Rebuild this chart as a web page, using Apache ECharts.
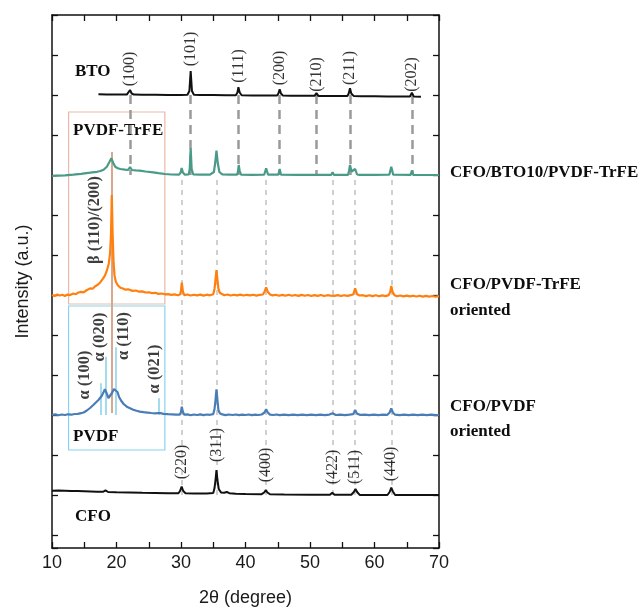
<!DOCTYPE html>
<html><head><meta charset="utf-8">
<script src="https://cdn.jsdelivr.net/npm/echarts@6/dist/echarts.min.js"></script>
<style>html,body{margin:0;padding:0;background:#fff}#c{width:640px;height:610px}</style>
</head><body><div id="c"></div>
<script>
// ---- data ----
const xTickLabels = [10, 20, 30, 40, 50, 60, 70];
const btoPeaks = [22.1, 31.5, 38.9, 45.3, 51.0, 56.2, 65.8];
const btoLabels = ['(100)', '(101)', '(111)', '(200)', '(210)', '(211)', '(202)'];
const cfoPeaks = [30.1, 35.5, 43.2, 53.5, 57.0, 62.6];
const cfoLabels = ['(220)', '(311)', '(400)', '(422)', '(511)', '(440)'];
const alphaPeaks = [17.62, 18.34, 19.93, 26.58];
const alphaLabels = ['α (100)', 'α (020)', 'α (110)', 'α (021)'];
const alphaHeights = [31.7, 58.3, 67.7, 16.7];
const betaPeak = 19.27;
const betaLabel = 'β (110)/(200)';

// vertical offsets of each pattern (a.u.)
const btoOffset = 453, tealOffset = 373, orangeOffset = 252.3, blueOffset = 133, cfoOffset = 56;

// [2θ, intensity above own baseline]
const btoProfile = [[17.2,0.7],[18.5,0.6],[20,0.5],[21.6,0.4],[21.9,1.5],[22.1,5],[22.35,1.5],[22.7,0.4],[24,0.3],[26,0.2],[28,0.1],[30,0],[31.0,0.3],[31.3,4],[31.5,24],[31.7,4],[32.0,0.3],[33,0],[35,-0.1],[37,-0.2],[38.5,-0.2],[38.75,2.5],[38.9,7.7],[39.1,2.5],[39.4,-0.3],[41,-0.4],[43,-0.5],[44.9,-0.6],[45.1,1.5],[45.3,5.7],[45.5,1.5],[45.8,-0.6],[47,-0.7],[49,-0.8],[50.7,-0.8],[51.0,1.8],[51.3,-0.9],[53,-1.0],[55.8,-1.0],[56.0,1.5],[56.2,6.8],[56.4,1.5],[56.8,-1.1],[58,-1.2],[60,-1.3],[62,-1.4],[64,-1.5],[65.5,-1.5],[65.8,2.4],[66.1,-1.6],[67.2,-1.7]];

const tealProfile = [[10,-1.0],[11,-0.6],[12,-0.3],[13.3,0.3],[14.5,1.2],[15.9,2.3],[17,3.2],[17.5,4],[18,5.3],[18.5,8.3],[18.9,13],[19.2,16.7],[19.5,12],[19.8,8.3],[20.2,6.8],[20.6,6],[21.3,5.3],[21.8,5],[22.1,8],[22.4,5],[23,4.6],[23.6,4.3],[24.5,3.5],[25.7,2.7],[26.5,1.8],[27.5,1],[28.5,0.5],[29.7,0.3],[29.95,2.5],[30.1,7],[30.3,2.5],[30.6,0.3],[31.2,0.5],[31.35,6],[31.5,26.7],[31.65,6],[31.9,0.5],[33,0.3],[34.5,0.3],[35.1,3],[35.3,12],[35.5,24.3],[35.7,12],[35.95,3],[36.4,0.6],[37.5,0.3],[38.7,0.3],[38.85,4],[38.95,10],[39.1,4],[39.3,0.3],[41,0.2],[42.9,0.3],[43.2,6.7],[43.5,0.3],[45.1,0.3],[45.3,6],[45.5,0.3],[48,0.2],[51,0.2],[53.3,0.2],[53.5,2.7],[53.7,0.2],[55.9,0.2],[56.05,4],[56.2,10],[56.45,3.5],[56.7,4],[57.0,6],[57.3,0.5],[57.7,0.2],[60,0.2],[62.3,0.3],[62.6,8.3],[62.9,0.3],[65.6,0.2],[65.8,4.3],[66,0.2],[70,0]];

const orangeProfile = [[10,0.8],[10.4,-0.3],[10.8,1.2],[11.2,0.2],[11.6,0.9],[12,-0.2],[12.4,1.1],[12.8,0.6],[13.3,2.2],[13.7,1.5],[14.1,3.2],[14.5,3.8],[14.9,3.3],[15.3,5.2],[15.9,7.3],[16.3,7.0],[16.7,9.5],[17.1,11],[17.5,13.5],[17.9,17],[18.2,20],[18.5,25],[18.8,32],[19.0,42],[19.15,62],[19.27,100.7],[19.4,62],[19.55,32],[19.7,20],[19.9,14],[20.2,10.5],[20.6,8],[21,7.2],[21.4,6],[21.8,6.4],[22.1,5.2],[22.5,4.8],[23,5.2],[23.5,4],[24,4.3],[24.5,3.2],[25,3.4],[25.5,2.6],[26,2.9],[26.5,1.8],[27,2.2],[27.5,1.4],[28,1.6],[28.5,0.8],[29,1.3],[29.5,0.5],[29.85,1.2],[30.0,5],[30.12,13],[30.3,4],[30.5,0.6],[31,1.2],[31.5,0.2],[32,1.0],[32.5,0.3],[33,1.1],[33.5,0.1],[34,1.0],[34.5,0.4],[35.0,1.5],[35.2,7],[35.35,16],[35.5,25.7],[35.65,16],[35.8,7],[36.0,3],[36.3,1.4],[36.7,0.5],[37.2,1.2],[37.7,0.2],[38.2,1.0],[38.7,0.3],[39.2,1.1],[39.7,0.2],[40.2,0.9],[40.7,0.3],[41.2,1.0],[41.7,0.1],[42.2,0.9],[42.7,1.2],[42.95,4],[43.2,8.4],[43.45,4],[43.8,1.2],[44.2,0.3],[44.7,1.0],[45.2,0],[45.7,0.8],[46.2,-0.1],[46.7,0.9],[47.2,0],[47.7,0.7],[48.2,-0.2],[48.7,0.8],[49.2,0],[49.7,0.7],[50.2,-0.3],[50.7,0.6],[51.2,-0.2],[51.7,0.7],[52.2,-0.3],[52.7,0.5],[53.2,0],[53.5,1.6],[53.8,-0.2],[54.3,0.6],[54.8,-0.3],[55.3,0.5],[55.8,-0.2],[56.3,0.6],[56.7,1.2],[57.0,7.4],[57.3,1.5],[57.7,0.2],[58.2,0.5],[58.7,-0.4],[59.2,0.4],[59.7,-0.4],[60.2,0.4],[60.7,-0.5],[61.2,0.3],[61.7,-0.4],[62.2,0.6],[62.45,4],[62.6,9.7],[62.8,4],[63.1,0.5],[63.5,-0.5],[64,0.2],[64.5,-0.7],[65,0.1],[65.5,-0.7],[66,0.0],[66.5,-0.8],[67,-0.1],[67.5,-0.9],[68,-0.2],[68.5,-0.9],[69,-0.3],[69.5,-1.0],[70,-0.5]];

const blueProfile = [[10,0],[10.5,0.6],[11,-0.2],[11.5,0.5],[12,0],[12.5,0.7],[13,0.3],[13.5,1.0],[14,1.2],[14.5,1.8],[14.9,2.5],[15.4,4.5],[15.9,7],[16.4,10],[16.8,12.5],[17.2,15],[17.7,19],[18.0,23],[18.2,25.7],[18.45,22],[18.75,17],[19.0,19],[19.3,22],[19.6,26],[19.9,27.7],[20.15,23],[20.4,18],[20.7,14.5],[21.1,11],[21.6,8.3],[22.1,6.8],[22.6,5.3],[23.1,4.2],[23.6,3.4],[24.2,2.8],[24.8,2.4],[25.4,2.0],[26.0,1.7],[26.4,1.9],[26.6,3],[26.8,1.8],[27.3,1.2],[28,0.8],[28.6,0.6],[29.2,0.3],[29.8,0.3],[30.0,3],[30.12,8.3],[30.3,3],[30.5,0.3],[31,0.6],[31.5,-0.2],[32,0.5],[32.5,0],[33,0.6],[33.5,-0.1],[34,0.5],[34.5,0.2],[35.0,0.9],[35.2,6],[35.35,15],[35.5,25.7],[35.65,15],[35.8,5],[36.0,1.8],[36.4,0.6],[36.9,-0.1],[37.4,0.5],[38,0],[38.5,0.5],[39,-0.1],[39.5,0.4],[40,0],[40.5,0.5],[41,-0.1],[41.5,0.4],[42,0],[42.5,0.5],[42.95,2.5],[43.2,5.7],[43.45,2.5],[43.8,0.4],[44.3,0],[44.8,0.5],[45.3,-0.1],[46,0.4],[46.7,-0.1],[47.4,0.4],[48.1,-0.1],[48.8,0.4],[49.5,-0.1],[50.2,0.4],[50.9,-0.1],[51.6,0.4],[52.3,-0.1],[53.0,0.4],[53.5,1.7],[54,0],[54.7,0.4],[55.4,-0.1],[56.1,0.4],[56.7,0.9],[57.0,5],[57.3,1.2],[57.8,0.1],[58.5,0.4],[59.2,-0.1],[59.9,0.4],[60.6,-0.1],[61.3,0.4],[62.0,0.2],[62.35,2.5],[62.6,6.7],[62.85,2.5],[63.2,0.3],[63.9,-0.1],[64.6,0.3],[65.3,-0.2],[66,0.3],[66.7,-0.2],[67.4,0.3],[68.1,-0.2],[68.8,0.3],[69.5,-0.2],[70,0]];

const cfoProfile = [[10,1.3],[11,1.4],[12,1.2],[13,1.0],[14,0.9],[15,0.7],[16,0.5],[17,0.3],[17.9,0.2],[18.3,1.6],[18.7,0],[20,-0.2],[22,-0.5],[24,-0.8],[26,-1.0],[28,-1.2],[29.6,-1.3],[29.85,1],[30.1,5.3],[30.35,1],[30.7,-1.3],[32,-1.4],[34,-1.4],[35.0,-1.0],[35.2,4],[35.35,12],[35.5,22],[35.65,12],[35.85,3],[36.2,-0.4],[36.7,-0.8],[37.1,0],[37.5,-1.2],[38.5,-1.8],[40,-2.0],[42.5,-2.2],[42.9,-0.5],[43.15,2],[43.4,-0.5],[43.8,-2.3],[46,-2.5],[50,-2.7],[53.1,-2.8],[53.45,-0.8],[53.8,-2.8],[56.4,-2.8],[56.8,0],[57.05,3],[57.3,0],[57.7,-2.9],[60,-3.0],[62.0,-3.0],[62.35,0],[62.6,4.3],[62.85,0.5],[63.2,-3.0],[66,-3.1],[70,-3.1]];

// ---- layout (label anchor heights, a.u.) ----
const btoLabelY = [479, 499, 482, 480, 473.5, 480, 473.5];
const cfoLabelY = [86, 103, 83, 81, 81, 84];
const alphaLabelPos = [[15.12, 173], [17.44, 211], [21.05, 212], [25.97, 179]];
const betaLabelPos = [16.67, 328];

const serif = '"Liberation Serif", "DejaVu Serif", serif';
const sans = '"Liberation Sans", Arial, sans-serif';
function shift(profile, off) { return profile.map(p => [p[0], p[1] + off]); }
function vline(x, y1, y2, style) { const a = { coord: [x, y1] }; if (style) a.lineStyle = style; return [a, { coord: [x, y2] }]; }

const axisLine = { show: true, lineStyle: { color: '#111', width: 1.5 } };
const tickStyle = { inside: true, length: 6, lineStyle: { color: '#111', width: 1.3 } };
const nameFont = 'bold 17px ' + serif;
function tag(text, x, y) { return { type: 'text', x, y, silent: true, style: { text, font: nameFont, fill: '#0d0d0d', verticalAlign: 'middle' } }; }

const chart = echarts.init(document.getElementById('c'));
chart.setOption({
  animation: false,
  backgroundColor: '#fff',
  grid: { left: 52, right: 201, top: 15, bottom: 62, containLabel: false, outerBoundsMode: 'none' },
  xAxis: [
    { type: 'value', min: 10, max: 70, interval: 5, position: 'bottom',
      axisLine, axisTick: tickStyle, splitLine: { show: false },
      axisLabel: { formatter: v => xTickLabels.includes(v) ? String(v) : '', fontFamily: sans, fontSize: 18, color: '#1a1a1a', margin: 6, hideOverlap: false },
      name: '2θ (degree)', nameLocation: 'middle', nameGap: 41,
      nameTextStyle: { fontFamily: sans, fontSize: 18, color: '#1a1a1a' } },
    { type: 'value', min: 10, max: 70, interval: 5, position: 'top',
      axisLine, axisTick: tickStyle, splitLine: { show: false }, axisLabel: { show: false } }
  ],
  yAxis: [
    { type: 'value', min: 0, max: 533, show: false },
    { type: 'value', min: 0, max: 13.325, interval: 1, inverse: true, position: 'left',
      axisLine, axisTick: tickStyle, splitLine: { show: false }, axisLabel: { show: false },
      name: 'Intensity (a.u.)', nameLocation: 'middle', nameGap: 20, nameRotate: 90,
      nameTextStyle: { fontFamily: sans, fontSize: 18, color: '#1a1a1a' } },
    { type: 'value', min: 0, max: 13.325, interval: 1, inverse: true, position: 'right',
      axisLine, axisTick: tickStyle, splitLine: { show: false }, axisLabel: { show: false } }
  ],
  series: [
    { type: 'line', name: 'CFO', data: shift(cfoProfile, cfoOffset), showSymbol: false, symbol: 'none', z: 3, silent: true,
      lineStyle: { color: '#111', width: 2 },
      markLine: { silent: true, z: 1, symbol: 'none', label: { show: false },
        lineStyle: { color: '#d0d0d0', width: 2, type: [5, 5] },
        data: cfoPeaks.map(x => vline(x, 53, 371)) } },
    { type: 'line', name: 'CFO/PVDF oriented', data: shift(blueProfile, blueOffset), showSymbol: false, symbol: 'none', z: 3, silent: true,
      lineStyle: { color: '#4a7db5', width: 2.2 },
      markLine: { silent: true, z: 1, symbol: 'none', label: { show: false },
        data: alphaPeaks.map((x, i) => vline(x, blueOffset, blueOffset + alphaHeights[i], { color: '#86d0ea', width: 1.5, type: 'solid' }))
          .concat([vline(betaPeak, blueOffset + 2, 396, { color: '#d8a88c', width: 2, type: 'solid' })]) },
      markArea: { silent: true, z: 1, itemStyle: { color: 'rgba(0,0,0,0)', borderColor: '#86d4ee', borderWidth: 1.2 },
        data: [[{ coord: [12.57, 242] }, { coord: [27.5, 98] }]] } },
    { type: 'line', name: 'CFO/PVDF-TrFE oriented', data: shift(orangeProfile, orangeOffset), showSymbol: false, symbol: 'none', z: 3, silent: true,
      lineStyle: { color: '#ff800e', width: 2.2 },
      markArea: { silent: true, z: 1, itemStyle: { color: 'rgba(0,0,0,0)', borderColor: '#e8b9a6', borderWidth: 1.2 },
        data: [[{ coord: [12.57, 436] }, { coord: [27.5, 244] }]] } },
    { type: 'line', name: 'CFO/BTO10/PVDF-TrFE', data: shift(tealProfile, tealOffset), showSymbol: false, symbol: 'none', z: 3, silent: true,
      lineStyle: { color: '#4a9a88', width: 2.2 } },
    { type: 'line', name: 'BTO', data: shift(btoProfile, btoOffset), showSymbol: false, symbol: 'none', z: 3, silent: true,
      lineStyle: { color: '#111', width: 2 },
      markLine: { silent: true, z: 1, symbol: 'none', label: { show: false },
        lineStyle: { color: '#9a9a9a', width: 2.5, type: [9, 6] },
        data: btoPeaks.map(x => vline(x, btoOffset, tealOffset)) } },
    { type: 'scatter', name: 'btoLabels', symbolSize: 1, itemStyle: { color: 'rgba(0,0,0,0)' }, silent: true, z: 5,
      data: btoPeaks.map((x, i) => ({ value: [x, btoLabelY[i]], name: btoLabels[i] })),
      label: { show: true, position: 'inside', rotate: 90, formatter: '{b}', fontFamily: serif, fontSize: 16, color: '#000' } },
    { type: 'scatter', name: 'cfoLabels', symbolSize: 1, itemStyle: { color: 'rgba(0,0,0,0)' }, silent: true, z: 5,
      data: cfoPeaks.map((x, i) => ({ value: [x, cfoLabelY[i]], name: cfoLabels[i] })),
      label: { show: true, position: 'inside', rotate: 90, formatter: '{b}', fontFamily: serif, fontSize: 16, color: '#000' } },
    { type: 'scatter', name: 'pvdfLabels', symbolSize: 1, itemStyle: { color: 'rgba(0,0,0,0)' }, silent: true, z: 5,
      data: alphaLabels.map((t, i) => ({ value: alphaLabelPos[i], name: t })).concat([{ value: betaLabelPos, name: betaLabel }]),
      label: { show: true, position: 'inside', rotate: 90, formatter: '{b}', fontFamily: serif, fontWeight: 'bold', fontSize: 16.5, color: '#0d0d0d' } }
  ],
  graphic: [
    tag('BTO', 75, 72),
    tag('PVDF-TrFE', 73, 131),
    tag('PVDF', 73, 437),
    tag('CFO', 75, 517),
    tag('CFO/BTO10/PVDF-TrFE', 450, 173),
    tag('CFO/PVDF-TrFE', 450, 285),
    tag('oriented', 450, 311),
    tag('CFO/PVDF', 450, 407),
    tag('oriented', 450, 432)
  ]
});
</script></body></html>
